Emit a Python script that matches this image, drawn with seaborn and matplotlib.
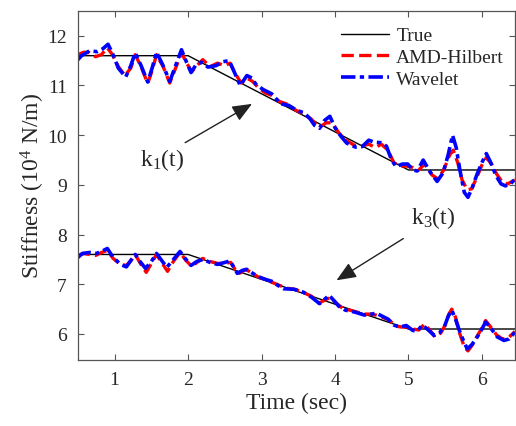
import numpy as np
import pandas as pd
import matplotlib
matplotlib.use("Agg")
import matplotlib.pyplot as plt
import seaborn as sns

# True stiffness (piecewise linear)
t_true = [0.5, 2.0, 5.0, 6.45]
k1_true = [11.6, 11.6, 9.3, 9.3]
k3_true = [7.6, 7.6, 6.1, 6.1]

# k1 identified by wavelet
t_k1_wav = [0.50, 0.55, 0.66, 0.76, 0.84, 0.91, 0.97, 1.05, 1.15, 1.22, 1.28, 1.36, 1.45, 1.51,
            1.57, 1.66, 1.75, 1.83, 1.91, 1.97, 2.04, 2.10, 2.18, 2.27, 2.38, 2.48, 2.56, 2.62,
            2.71, 2.80, 2.87, 2.92, 3.02, 3.14, 3.26, 3.37, 3.48, 3.58, 3.66, 3.72, 3.79, 3.86,
            3.93, 4.00, 4.08, 4.16, 4.28, 4.37, 4.46, 4.53, 4.62, 4.70, 4.77, 4.83, 4.92, 4.99,
            5.06, 5.12, 5.20, 5.30, 5.39, 5.47, 5.54, 5.60, 5.65, 5.70, 5.76, 5.81, 5.87, 5.93,
            6.00, 6.06, 6.12, 6.19, 6.26, 6.32, 6.39, 6.45]
k1_wav = [11.52, 11.60, 11.70, 11.68, 11.74, 11.83, 11.65, 11.35, 11.17, 11.40, 11.66, 11.40, 11.07, 11.35,
          11.67, 11.40, 11.08, 11.40, 11.72, 11.50, 11.26, 11.40, 11.47, 11.37, 11.40, 11.48, 11.50, 11.30,
          11.00, 11.20, 11.15, 11.03, 10.92, 10.83, 10.63, 10.60, 10.50, 10.45, 10.33, 10.20, 10.14, 10.30,
          10.38, 10.15, 9.98, 9.84, 9.76, 9.77, 9.90, 9.86, 9.85, 9.78, 9.50, 9.37, 9.42, 9.42,
          9.30, 9.28, 9.50, 9.25, 9.07, 9.24, 9.60, 10.00, 9.75, 9.30, 8.85, 8.75, 8.95, 9.20,
          9.45, 9.63, 9.45, 9.19, 9.02, 8.98, 9.02, 9.12]

# k1 identified by AMD-Hilbert
t_k1_amd = [0.50, 0.58, 0.66, 0.74, 0.82, 0.90, 0.97, 1.05, 1.14, 1.22, 1.28, 1.36, 1.45, 1.51,
            1.57, 1.66, 1.75, 1.83, 1.91, 1.98, 2.05, 2.12, 2.20, 2.30, 2.40, 2.50, 2.57, 2.64,
            2.72, 2.80, 2.88, 2.96, 3.05, 3.14, 3.24, 3.36, 3.47, 3.58, 3.68, 3.78, 3.88, 3.96,
            4.05, 4.15, 4.26, 4.36, 4.46, 4.55, 4.63, 4.72, 4.80, 4.88, 4.97, 5.06, 5.14, 5.22,
            5.32, 5.40, 5.48, 5.56, 5.61, 5.67, 5.73, 5.80, 5.86, 5.93, 6.00, 6.06, 6.13, 6.20,
            6.28, 6.35, 6.45]
k1_amd = [11.62, 11.67, 11.66, 11.58, 11.62, 11.76, 11.62, 11.38, 11.20, 11.35, 11.62, 11.38, 11.04, 11.30,
          11.62, 11.38, 11.05, 11.35, 11.66, 11.45, 11.28, 11.40, 11.52, 11.38, 11.45, 11.40, 11.45, 11.25,
          11.05, 11.15, 11.08, 10.95, 10.85, 10.80, 10.68, 10.62, 10.50, 10.42, 10.32, 10.15, 10.25, 10.25,
          10.05, 9.90, 9.80, 9.78, 9.82, 9.75, 9.82, 9.70, 9.45, 9.38, 9.38, 9.35, 9.30, 9.42,
          9.20, 9.12, 9.30, 9.60, 9.70, 9.45, 9.10, 8.90, 8.92, 9.15, 9.40, 9.55, 9.42, 9.22,
          9.05, 9.02, 9.10]

# k3 identified by wavelet
t_k3_wav = [0.50, 0.56, 0.66, 0.75, 0.82, 0.90, 0.98, 1.08, 1.16, 1.22, 1.28, 1.35, 1.42, 1.50,
            1.57, 1.64, 1.71, 1.80, 1.89, 1.96, 2.04, 2.12, 2.20, 2.30, 2.40, 2.50, 2.57, 2.62,
            2.67, 2.74, 2.80, 2.88, 2.96, 3.05, 3.14, 3.22, 3.30, 3.44, 3.57, 3.68, 3.79, 3.86,
            3.92, 3.98, 4.05, 4.14, 4.27, 4.40, 4.50, 4.56, 4.64, 4.72, 4.80, 4.88, 4.97, 5.06,
            5.12, 5.19, 5.27, 5.35, 5.42, 5.49, 5.54, 5.59, 5.64, 5.69, 5.75, 5.80, 5.86, 5.92,
            5.99, 6.05, 6.12, 6.21, 6.30, 6.37, 6.45]
k3_wav = [7.54, 7.62, 7.64, 7.62, 7.66, 7.72, 7.54, 7.40, 7.35, 7.48, 7.60, 7.45, 7.32, 7.46,
          7.62, 7.48, 7.34, 7.50, 7.66, 7.52, 7.38, 7.46, 7.50, 7.44, 7.40, 7.44, 7.47, 7.35,
          7.22, 7.28, 7.30, 7.22, 7.15, 7.10, 7.06, 6.98, 6.91, 6.90, 6.84, 6.74, 6.61, 6.70,
          6.78, 6.68, 6.56, 6.48, 6.44, 6.38, 6.40, 6.42, 6.36, 6.30, 6.18, 6.14, 6.17, 6.07,
          6.06, 6.18, 6.08, 5.97, 6.02, 6.15, 6.35, 6.48, 6.30, 6.08, 5.86, 5.70, 5.78, 5.90,
          6.07, 6.24, 6.12, 5.94, 5.87, 5.90, 6.04]

# k3 identified by AMD-Hilbert
t_k3_amd = [0.50, 0.58, 0.66, 0.74, 0.82, 0.90, 0.98, 1.08, 1.16, 1.22, 1.28, 1.35, 1.43, 1.50,
            1.57, 1.64, 1.72, 1.80, 1.89, 1.97, 2.05, 2.12, 2.20, 2.30, 2.40, 2.50, 2.58, 2.64,
            2.70, 2.78, 2.86, 2.96, 3.05, 3.14, 3.24, 3.34, 3.45, 3.56, 3.68, 3.78, 3.86, 3.94,
            4.02, 4.10, 4.20, 4.30, 4.40, 4.48, 4.56, 4.64, 4.74, 4.82, 4.90, 4.98, 5.06, 5.14,
            5.22, 5.30, 5.36, 5.44, 5.50, 5.55, 5.59, 5.64, 5.70, 5.76, 5.81, 5.87, 5.93, 6.00,
            6.05, 6.12, 6.20, 6.28, 6.36, 6.45]
k3_amd = [7.58, 7.62, 7.60, 7.58, 7.64, 7.68, 7.52, 7.40, 7.38, 7.47, 7.60, 7.42, 7.24, 7.42,
          7.60, 7.44, 7.26, 7.46, 7.64, 7.48, 7.36, 7.44, 7.52, 7.46, 7.42, 7.42, 7.44, 7.30,
          7.22, 7.30, 7.24, 7.14, 7.10, 7.04, 6.98, 6.92, 6.90, 6.84, 6.76, 6.62, 6.68, 6.74,
          6.62, 6.52, 6.48, 6.44, 6.40, 6.40, 6.38, 6.34, 6.28, 6.16, 6.14, 6.14, 6.10, 6.08,
          6.20, 6.06, 5.94, 6.02, 6.18, 6.40, 6.50, 6.34, 6.00, 5.74, 5.66, 5.78, 5.94, 6.12,
          6.27, 6.14, 5.98, 5.90, 5.92, 6.05]

x_ticks = [1, 2, 3, 4, 5, 6]
y_ticks = [6, 7, 8, 9, 10, 11, 12]

sns.set_style("ticks")
plt.rcParams['font.family'] = ['Liberation Serif', 'DejaVu Serif']
plt.rcParams['mathtext.fontset'] = 'custom'
plt.rcParams['mathtext.rm'] = 'Liberation Serif'
plt.rcParams['mathtext.it'] = 'Liberation Serif'
text_col = '#262626'

fig = plt.figure(figsize=(5.16, 4.27), dpi=100)
ax = fig.add_axes([0.151, 0.155, 0.847, 0.817])

red_kw = dict(color='red', linestyle='--', linewidth=2.4)
wav_dash = (4.0, 1.2, 1.2, 1.2)

for tt, kt in [(t_true, k1_true), (t_true, k3_true)]:
    sns.lineplot(x=tt, y=kt, ax=ax, color='black', linewidth=1.0, estimator=None, sort=False)
for tt, kk in [(t_k1_amd, k1_amd), (t_k3_amd, k3_amd)]:
    sns.lineplot(x=tt, y=kk, ax=ax, estimator=None, sort=False, **red_kw)
for tt, kk in [(t_k1_wav, k1_wav), (t_k3_wav, k3_wav)]:
    ln = sns.lineplot(x=tt, y=kk, ax=ax, estimator=None, sort=False, color='blue', linewidth=2.6)
    ln.lines[-1].set_dashes(wav_dash)

ax.set_xlim(0.5, 6.45)
ax.set_ylim(5.48, 12.5)
ax.set_xticks(x_ticks)
ax.set_yticks(y_ticks)
ax.tick_params(direction='in', top=True, right=True, length=4, width=0.8,
               labelsize=14, colors='#555555', labelcolor=text_col, pad=8)
for s in ax.spines.values():
    s.set_color('#555555')
    s.set_linewidth(0.9)

ax.set_xlabel('Time (sec)', fontsize=17, color=text_col, labelpad=3)
ax.set_ylabel(r'Stiffness (10$^{4}$ N/m)', fontsize=17, color=text_col, labelpad=0)

# legend
h_true, = ax.plot([], [], color='black', linewidth=1.0)
h_amd, = ax.plot([], [], **red_kw)
h_wav, = ax.plot([], [], color='blue', linewidth=2.6)
h_wav.set_dashes(wav_dash)
leg = ax.legend([h_true, h_amd, h_wav], ['True', 'AMD-Hilbert', 'Wavelet'],
                loc='upper right', bbox_to_anchor=(1.015, 1.005), frameon=False,
                fontsize=14, handlelength=2.5, handletextpad=0.35, labelspacing=0.22)
for txt in leg.get_texts():
    txt.set_color(text_col)

# annotations
arrow = dict(arrowstyle='-|>,head_length=0.6,head_width=0.25', color='#222222', lw=1.0,
             mutation_scale=20, shrinkA=0, shrinkB=0)
ax.annotate('', xy=(2.87, 10.63), xytext=(1.96, 9.85), arrowprops=arrow)
ax.text(1.65, 9.53, r'k$_{1}$(t)', fontsize=17, color=text_col, ha='center', va='center')
ax.annotate('', xy=(4.02, 7.08), xytext=(4.93, 7.92), arrowprops=arrow)
ax.text(5.34, 8.36, r'k$_{3}$(t)', fontsize=17, color=text_col, ha='center', va='center')

fig.savefig('out.png', dpi=100)
